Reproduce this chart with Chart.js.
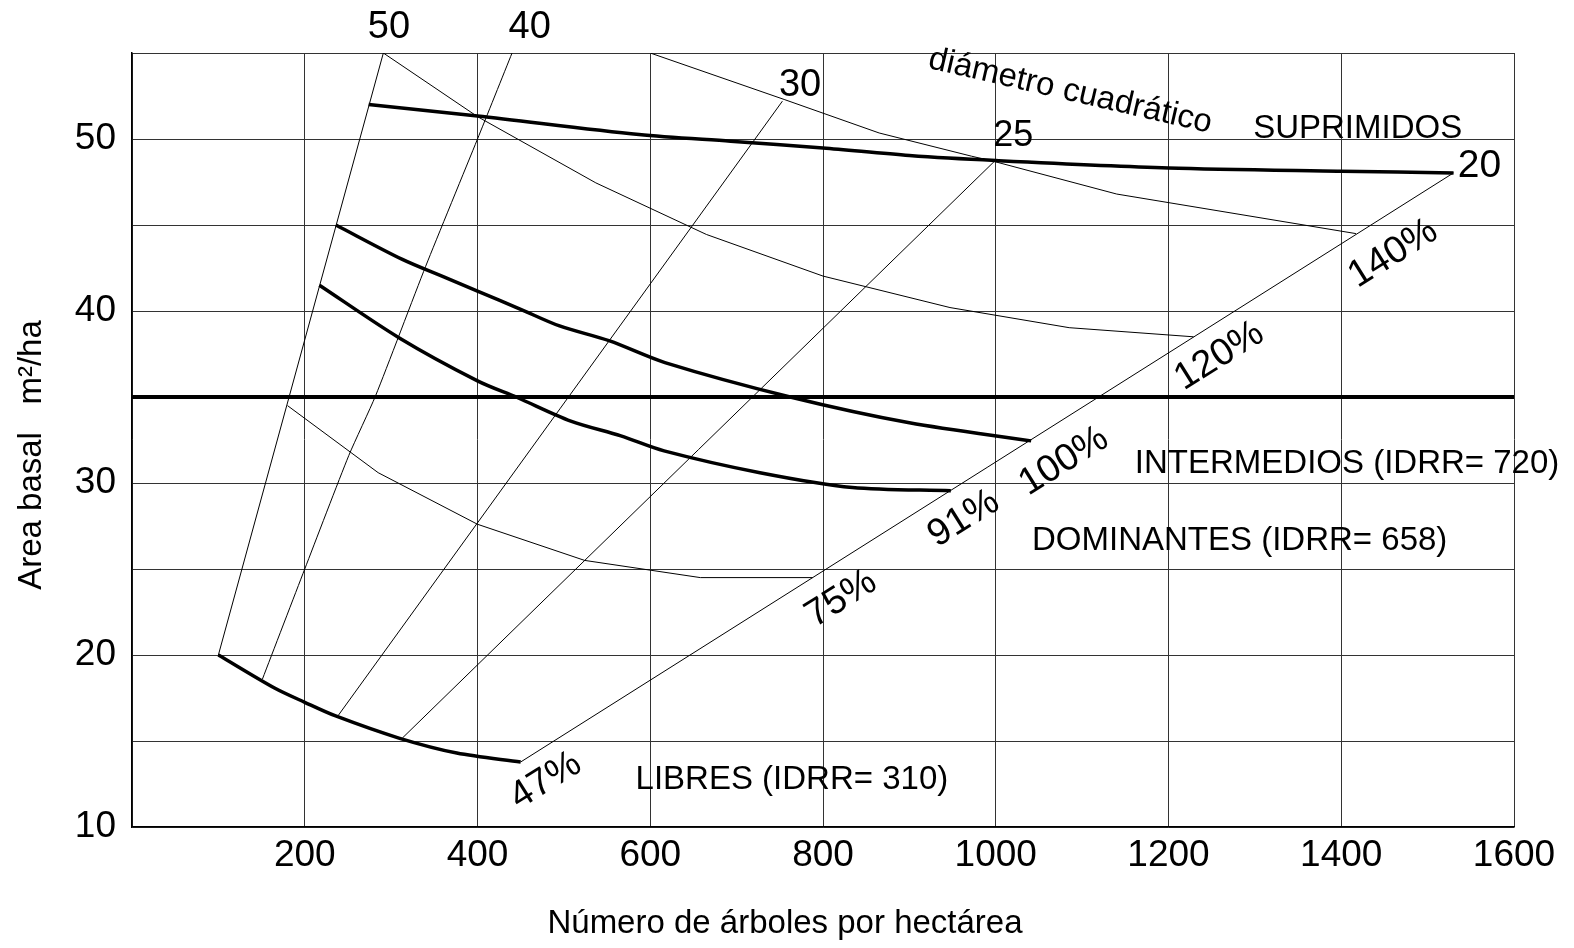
<!DOCTYPE html>
<html lang="es">
<head>
  <meta charset="UTF-8" />
  <title>Area basal por clase de copa</title>
  <script src="https://cdn.jsdelivr.net/npm/chart.js"></script>
  <style>
    html, body {
      margin: 0;
      padding: 0;
      background: #fff;
    }
    canvas {
      display: block;
    }
  </style>
</head>
<body>
  <canvas id="basalChart" width="1574" height="948"></canvas>

  <script>
    // curves by crown class: [arboles/ha, area basal m2/ha]
    const suprimidos = [[274, 52.0], [400, 51.34], [587, 50.26], [693, 49.87], [800, 49.48], [900, 49.04], [1000, 48.75], [1200, 48.32], [1400, 48.13], [1530, 48.03]];
    const intermedios = [[236, 45.0], [313, 43.0], [363, 41.94], [400, 41.16], [450, 40.1], [495, 39.13], [553, 38.26], [617, 37.0], [762, 35.0], [900, 33.5], [1041, 32.45]];
    const dominantes = [[217, 41.5], [309, 38.45], [400, 35.94], [446, 34.97], [508, 33.6], [566, 32.74], [616, 31.87], [727, 30.6], [834, 29.74], [948, 29.55]];
    const libres = [[100, 20.0], [165, 18.08], [200, 17.25], [235, 16.47], [309, 15.17], [376, 14.3], [450, 13.78]];
    const referencia35 = [[0, 35], [1600, 35]];

    // diametro cuadratico lines (cm)
    const diam50 = [[100, 20], [291, 55]];
    const diam40 = [[151, 18.6], [200, 25], [251, 31.6], [282, 35.07], [340, 42.6], [400, 50], [440, 55]];
    const diam30 = [[239, 16.5], [753, 52.2]];
    const diam25 = [[313, 15.17], [999, 48.73]];
    const diam20 = [[450, 13.78], [1530, 48.03]];

    // relative density isolines
    const dens140 = [[600, 55], [755, 52.3], [865, 50.35], [972, 49.0], [1000, 48.67], [1140, 46.8], [1417, 44.5]];
    const dens120 = [[291, 55], [400, 51.3], [537, 47.45], [665, 44.45], [800, 42.03], [947, 40.2], [1085, 39.03], [1229, 38.5]];
    const dens75 = [[180, 34.5], [285, 30.6], [400, 27.6], [524, 25.5], [658, 24.5], [788, 24.5]];

    const xTickValues = [200, 400, 600, 800, 1000, 1200, 1400, 1600];
    const yTickValues = [10, 20, 30, 40, 50];

    // text placed on the chart, anchored in data units
    const notes = [
      { text: '50', x: 273, y: 55.88, size: 38 },
      { text: '40', x: 436, y: 55.88, size: 38 },
      { text: '30', x: 749, y: 52.49, size: 38 },
      { text: '25', x: 997, y: 49.57, size: 36 },
      { text: '20', x: 1535, y: 47.77, size: 39 },
      { text: 'SUPRIMIDOS', x: 1298, y: 50.08, size: 33 },
      { text: 'INTERMEDIOS (IDRR= 720)', x: 1161, y: 30.6, size: 33 },
      { text: 'DOMINANTES (IDRR= 658)', x: 1042, y: 26.12, size: 33 },
      { text: 'LIBRES (IDRR= 310)', x: 583, y: 12.23, size: 33 }
    ];
    const percentNotes = [
      { text: '140%', x: 1460, y: 43.33 },
      { text: '120%', x: 1259, y: 37.38 },
      { text: '100%', x: 1079, y: 31.26 },
      { text: '91%', x: 963, y: 27.92 },
      { text: '75%', x: 821, y: 23.26 },
      { text: '47%', x: 479, y: 12.69 }
    ];
    const diamTitle = { text: 'diámetro cuadrático', x: 1084, y: 52.25 };

    const FONT = '"Liberation Sans", Arial, sans-serif';

    function toPoints(arr) {
      return arr.map(p => ({ x: p[0], y: p[1] }));
    }

    function series(arr, width, tension) {
      return {
        data: toPoints(arr),
        showLine: true,
        borderColor: '#000',
        borderWidth: width,
        pointRadius: 0,
        fill: false,
        tension: tension || 0
      };
    }

    const textPlugin = {
      id: 'chartText',
      afterDraw(chart) {
        const { ctx, scales: { x, y }, chartArea } = chart;
        ctx.save();
        ctx.fillStyle = '#000';

        notes.forEach(n => {
          ctx.font = n.size + 'px ' + FONT;
          ctx.textAlign = 'left';
          ctx.textBaseline = 'alphabetic';
          ctx.fillText(n.text, x.getPixelForValue(n.x), y.getPixelForValue(n.y));
        });

        percentNotes.forEach(n => {
          ctx.save();
          ctx.translate(x.getPixelForValue(n.x), y.getPixelForValue(n.y));
          ctx.rotate(-32 * Math.PI / 180);
          ctx.font = '38px ' + FONT;
          ctx.textAlign = 'center';
          ctx.textBaseline = 'middle';
          ctx.fillText(n.text, 0, 0);
          ctx.restore();
        });

        ctx.save();
        ctx.translate(x.getPixelForValue(diamTitle.x), y.getPixelForValue(diamTitle.y));
        ctx.rotate(13 * Math.PI / 180);
        ctx.font = '33px ' + FONT;
        ctx.textAlign = 'center';
        ctx.textBaseline = 'alphabetic';
        ctx.fillText(diamTitle.text, 0, 0);
        ctx.restore();

        // axis titles
        ctx.font = '33px ' + FONT;
        ctx.textAlign = 'center';
        ctx.textBaseline = 'middle';
        ctx.fillText('Número de árboles por hectárea', chartArea.left + 653, 924);

        ctx.save();
        ctx.translate(32, 455);
        ctx.rotate(-Math.PI / 2);
        ctx.fillText('Area basal   m²/ha', 0, 0);
        ctx.restore();

        ctx.restore();
      }
    };

    const ctx = document.getElementById('basalChart').getContext('2d');
    new Chart(ctx, {
      type: 'scatter',
      data: {
        datasets: [
          series(suprimidos, 3.5, 0.3),
          series(intermedios, 3.5, 0.3),
          series(dominantes, 3.5, 0.3),
          series(libres, 3.5, 0.3),
          series(referencia35, 4),
          series(diam50, 1),
          series(diam40, 1, 0.2),
          series(diam30, 1),
          series(diam25, 1),
          series(diam20, 1),
          series(dens140, 1),
          series(dens120, 1),
          series(dens75, 1)
        ]
      },
      options: {
        responsive: false,
        animation: false,
        layout: {
          padding: { top: 53, right: 60, left: 0, bottom: 0 }
        },
        plugins: {
          legend: { display: false },
          tooltip: { enabled: false }
        },
        scales: {
          x: {
            type: 'linear',
            min: 0,
            max: 1600,
            afterFit: s => { s.height = 121; },
            ticks: {
              stepSize: 200,
              autoSkip: false,
              maxRotation: 0,
              padding: 7,
              color: '#000',
              font: { family: FONT, size: 37 },
              callback: v => xTickValues.includes(v) ? v : ''
            },
            grid: { color: '#333', lineWidth: 1, drawTicks: false },
            border: { color: '#000', width: 1.5 }
          },
          y: {
            type: 'linear',
            min: 10,
            max: 55,
            afterFit: s => { s.width = 132; },
            ticks: {
              stepSize: 5,
              autoSkip: false,
              padding: 16,
              color: '#000',
              font: { family: FONT, size: 37 },
              callback: v => yTickValues.includes(v) ? v : ''
            },
            grid: { color: '#333', lineWidth: 1, drawTicks: false },
            border: { color: '#000', width: 1.5 }
          }
        }
      },
      plugins: [textPlugin]
    });
  </script>
</body>
</html>
